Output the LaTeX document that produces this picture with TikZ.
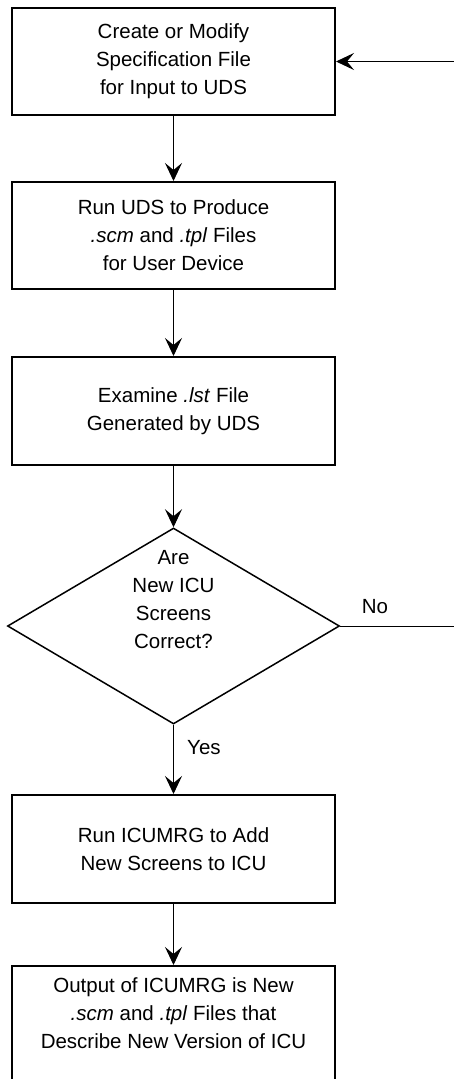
\documentclass[tikz,border=0pt]{standalone}
\usepackage{fontspec}
\setmainfont{Liberation Sans}
\usetikzlibrary{shapes.geometric,arrows.meta}
\begin{document}
\begin{tikzpicture}[x=1pt,y=-1pt,
  font=\fontsize{20.5}{28}\selectfont,
  box/.style={draw,line width=2pt,minimum width=323pt,align=center,inner sep=0pt},
  flow/.style={line width=1pt,-{Stealth[length=18pt,width=17pt,inset=7pt]}},
  plain/.style={line width=1pt}]
\useasboundingbox (0,0) rectangle (453,1079);
\node[box,minimum height=107pt] (b1) at (173.5,61.5) {Create or Modify\\Specification File\\for Input to UDS};
\node[box,minimum height=107pt] (b2) at (173.5,235.5) {Run UDS to Produce\\\textit{.scm} and \textit{.tpl} Files\\for User Device};
\node[box,minimum height=108pt] (b3) at (173.5,411) {Examine \textit{.lst} File\\Generated by UDS};
\node[diamond,draw,line width=1.5pt,minimum width=332pt,minimum height=196pt,aspect=1.69,inner sep=0pt] (d) at (173.5,626) {};
\node[align=center,inner sep=0pt] (dt) at (173.5,600) {Are\\New ICU\\Screens\\Correct?};
\node[box,minimum height=108pt] (b4) at (173.5,849) {Run ICUMRG to Add\\New Screens to ICU};
\node[box,minimum height=130pt] (b5) at (173.5,1031) {};
\node[align=center,inner sep=0pt] (b5t) at (173.5,1013) {Output of ICUMRG is New\\\textit{.scm} and \textit{.tpl} Files that\\Describe New Version of ICU};
\node[anchor=west,inner sep=0pt] (yes) at (187,748) {Yes};
\node[inner sep=0pt] (no) at (375,607) {No};
\coordinate (loopBot) at (470,626);
\coordinate (loopTop) at (470,61.5);
\draw[flow] (b1.south) -- (b2.north);
\draw[flow] (b2.south) -- (b3.north);
\draw[flow] (b3.south) -- (d.north);
\draw[flow] (d.south) -- (b4.north);
\draw[flow] (b4.south) -- (b5.north);
\draw[flow] (d.east) -- (loopBot) -- (loopTop) -- (b1.east);
\end{tikzpicture}
\end{document}
